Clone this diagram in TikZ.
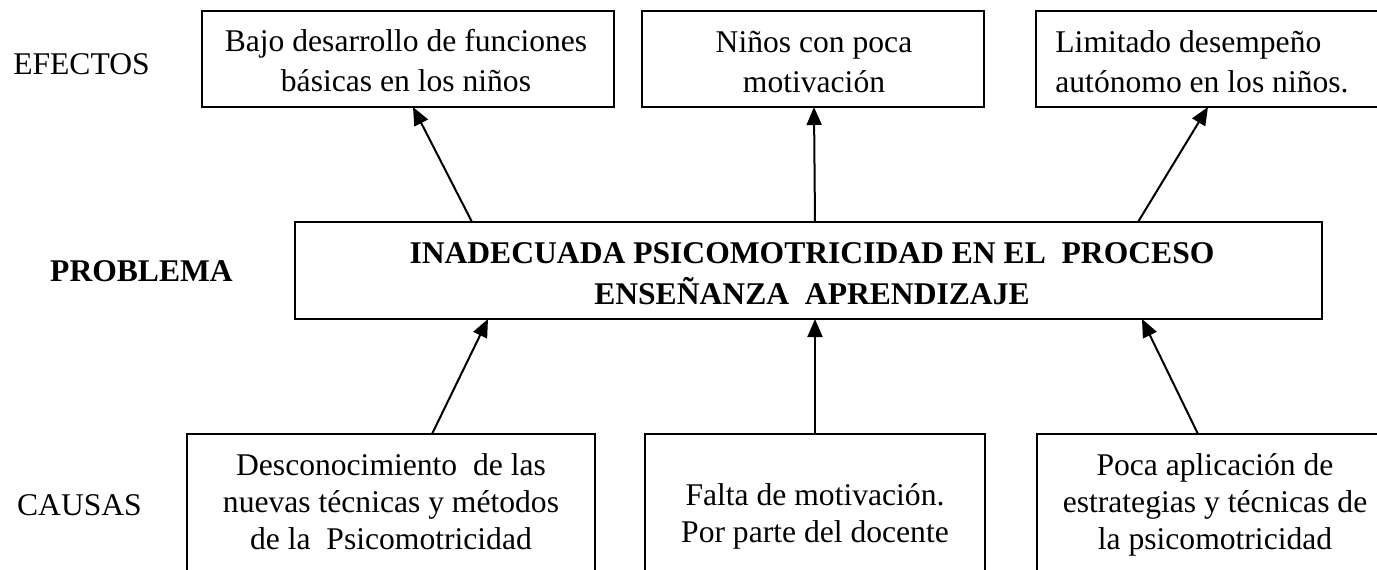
\documentclass[tikz,border=0pt]{standalone}
\usepackage{fontspec}
\setmainfont{Liberation Serif}
\usetikzlibrary{arrows.meta}
\tikzset{
  box/.style={draw, line width=1pt, inner sep=0pt, outer sep=0pt, anchor=north west},
  lbl/.style={inner sep=0pt, anchor=base, font=\fontsize{15.8}{20}\selectfont},
  toptxt/.style={inner sep=0pt, anchor=base, font=\fontsize{15.8}{20}\selectfont},
  midtxt/.style={inner sep=0pt, anchor=base, font=\fontsize{15.8}{20.75}\selectfont\bfseries},
  bottxt/.style={inner sep=0pt, anchor=base, font=\fontsize{15.8}{18.5}\selectfont},
  arr/.style={line width=1pt, -{Triangle[length=9pt,width=7.5pt]}}
}
\newcommand{\mlc}[1]{\begin{tabular}[t]{@{}c@{}}#1\end{tabular}}
\newcommand{\mll}[1]{\begin{tabular}[t]{@{}l@{}}#1\end{tabular}}
\begin{document}
\begin{tikzpicture}[x=0.5pt,y=-0.5pt]
\useasboundingbox (0,0) rectangle (1377,569);
% side labels
\node[lbl] (lefe) at (81.5,74) {EFECTOS};
\node[lbl, font=\fontsize{15.8}{20}\selectfont\bfseries] (lpro) at (141.5,281) {PROBLEMA};
\node[lbl] (lcau) at (79.5,515) {CAUSAS};
% effect boxes
\node[box, minimum width=206pt, minimum height=48pt] (e1) at (202,11) {};
\node[box, minimum width=171pt, minimum height=48pt] (e2) at (642,11) {};
\node[box, minimum width=190pt, minimum height=48pt] (e3) at (1036,11) {};
\node[toptxt] (te1) at (406,51) {\mlc{Bajo desarrollo de funciones\\básicas en los niños}};
\node[toptxt] (te2) at (814,52) {\mlc{Niños con poca\\motivación}};
\node[toptxt, anchor=base west] (te3) at (1055,52) {\mll{Limitado desempeño\\autónomo en los niños.}};
% problem box
\node[box, minimum width=513.5pt, minimum height=48.5pt] (p) at (295,222) {};
\node[midtxt] (tp) at (812,263) {\mlc{INADECUADA PSICOMOTRICIDAD EN EL\ \ PROCESO\\ENSEÑANZA\ \ APRENDIZAJE}};
% cause boxes
\node[box, minimum width=204pt, minimum height=90pt] (c1) at (187,434) {};
\node[box, minimum width=170pt, minimum height=90pt] (c2) at (645,434) {};
\node[box, minimum width=190pt, minimum height=90pt] (c3) at (1037,434) {};
\node[bottxt] (tc1) at (391,475) {\mlc{Desconocimiento\ \ de las\\nuevas técnicas y métodos\\de la\ \ Psicomotricidad}};
\node[bottxt] (tc2) at (815,505) {\mlc{Falta de motivación.\\Por parte del docente}};
\node[bottxt] (tc3) at (1215,475) {\mlc{Poca aplicación de\\estrategias y técnicas de\\la psicomotricidad}};
% arrows: problem -> effects
\draw[arr] ([xshift=88.5pt]p.north west) -- ([xshift=105.5pt]e1.south west);
\draw[arr] ([xshift=260pt]p.north west) -- ([xshift=86pt]e2.south west);
\draw[arr] ([xshift=421.5pt]p.north west) -- ([xshift=86pt]e3.south west);
% arrows: causes -> problem
\draw[arr] ([xshift=122.5pt]c1.north west) -- ([xshift=96.5pt]p.south west);
\draw[arr] ([xshift=85pt]c2.north west) -- ([xshift=260pt]p.south west);
\draw[arr] ([xshift=80.5pt]c3.north west) -- ([xshift=423.5pt]p.south west);
\end{tikzpicture}
\end{document}
